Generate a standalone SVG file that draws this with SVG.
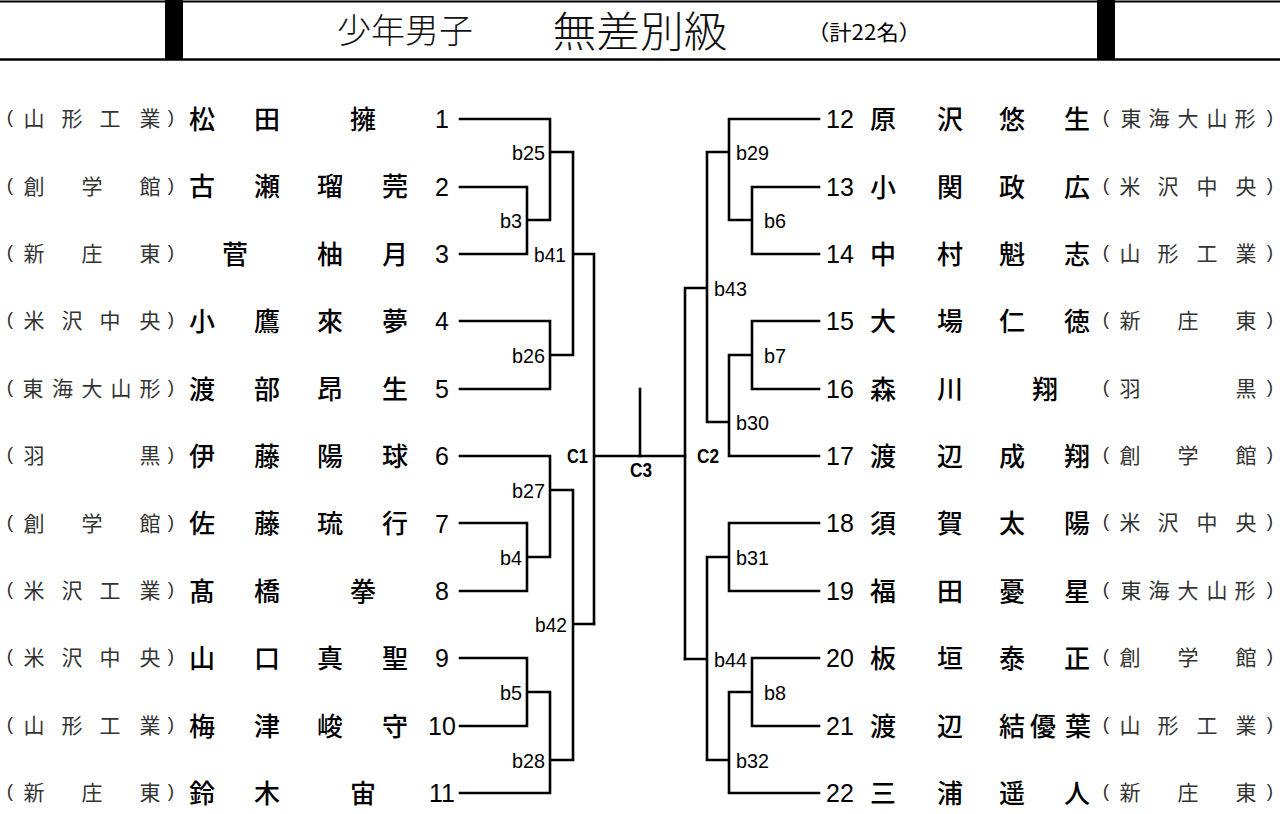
<svg xmlns="http://www.w3.org/2000/svg" width="1280" height="814" viewBox="0 0 1280 814">
<style>
.bg{fill:#fff}
.hl{stroke:#000;fill:none}
.bar{fill:#000}
.ttl{font-family:"Noto Sans CJK JP","Noto Sans CJK SC",sans-serif;fill:#111;font-weight:300;text-anchor:middle}
.cnt{font-family:"Noto Sans CJK JP","Noto Sans CJK SC",sans-serif;fill:#000;font-weight:400;font-size:21px;text-anchor:middle}
.con{fill:none;stroke:#000;stroke-width:2.6;stroke-linecap:square}
.lb{font-family:"Liberation Sans",Arial,sans-serif;font-size:21px;fill:#000}
.lbl{text-anchor:end}
.lbr{text-anchor:start}
.cl{font-family:"Liberation Sans",Arial,sans-serif;font-size:21px;font-weight:bold;fill:#000}
.num{font-family:"Liberation Sans",Arial,sans-serif;font-size:25px;fill:#000;text-anchor:middle}
.nm{font-family:"Noto Sans CJK JP","Noto Sans CJK SC",sans-serif;font-size:26px;font-weight:500;fill:#000;text-anchor:middle}
.sc{font-family:"Noto Sans CJK JP","Noto Sans CJK SC",sans-serif;font-size:21px;fill:#333;text-anchor:middle}
.pa{font-family:"Liberation Sans",Arial,sans-serif;font-size:19px;fill:#333;text-anchor:middle}
</style>
<rect class="bg" x="0" y="0" width="1280" height="814"/>
<g id="header">
<line class="hl" x1="0" y1="1.5" x2="1280" y2="1.5" stroke-width="2"/>
<line class="hl" x1="0" y1="59.5" x2="1280" y2="59.5" stroke-width="2.6"/>
<rect class="bar" x="165" y="0" width="18" height="60"/>
<rect class="bar" x="1097" y="0" width="18" height="60"/>
<text class="ttl" x="405" y="43" font-size="34">少年男子</text>
<text class="ttl" x="640" y="47" font-size="42" textLength="175" lengthAdjust="spacingAndGlyphs">無差別級</text>
<text class="cnt" x="864" y="40" textLength="114" lengthAdjust="spacingAndGlyphs">（計22名）</text>
</g>
<g id="connectors">
<path class="con" d="M460,119H550V220M460,187H527V254H460M527,220H550M550,152H573V355M460,321H550V389H460M550,355H573M573,254H594V624M594,456H685"/>
<path class="con" d="M460,456H550V557M460,523H527V591H460M527,557H550M550,490H573V760M460,658H527V726H460M527,692H550M460,793H550V692M550,760H573M573,624H594"/>
<path class="con" d="M819,119H729V220M819,187H752V254H819M752,220H729M729,152H707V422M707,288H685V659M819,321H752V389H819M752,355H729V456H819M729,422H707"/>
<path class="con" d="M819,523H729V591H819M729,557H707V760M707,659H685M819,658H752V726H819M752,692H729V793H819M729,760H707"/>
<path class="con" d="M640,389V456"/>
</g>
<g id="match-labels">
<text class="lb lbl" x="545" y="159.5" textLength="33" lengthAdjust="spacingAndGlyphs">b25</text>
<text class="lb lbl" x="522" y="227.5" textLength="22" lengthAdjust="spacingAndGlyphs">b3</text>
<text class="lb lbl" x="566" y="261.5" textLength="32" lengthAdjust="spacingAndGlyphs">b41</text>
<text class="lb lbl" x="545" y="362.5" textLength="33" lengthAdjust="spacingAndGlyphs">b26</text>
<text class="lb lbl" x="545" y="497.5" textLength="33" lengthAdjust="spacingAndGlyphs">b27</text>
<text class="lb lbl" x="522" y="564.5" textLength="22" lengthAdjust="spacingAndGlyphs">b4</text>
<text class="lb lbl" x="567" y="631.5" textLength="32" lengthAdjust="spacingAndGlyphs">b42</text>
<text class="lb lbl" x="522" y="699.5" textLength="22" lengthAdjust="spacingAndGlyphs">b5</text>
<text class="lb lbl" x="545" y="767.5" textLength="33" lengthAdjust="spacingAndGlyphs">b28</text>
<text class="lb lbr" x="736" y="159.5" textLength="33" lengthAdjust="spacingAndGlyphs">b29</text>
<text class="lb lbr" x="764" y="227.5" textLength="22" lengthAdjust="spacingAndGlyphs">b6</text>
<text class="lb lbr" x="714" y="295.5" textLength="33" lengthAdjust="spacingAndGlyphs">b43</text>
<text class="lb lbr" x="764" y="362.5" textLength="22" lengthAdjust="spacingAndGlyphs">b7</text>
<text class="lb lbr" x="736" y="429.5" textLength="33" lengthAdjust="spacingAndGlyphs">b30</text>
<text class="lb lbr" x="736" y="564.5" textLength="33" lengthAdjust="spacingAndGlyphs">b31</text>
<text class="lb lbr" x="714" y="666.5" textLength="33" lengthAdjust="spacingAndGlyphs">b44</text>
<text class="lb lbr" x="764" y="699.5" textLength="22" lengthAdjust="spacingAndGlyphs">b8</text>
<text class="lb lbr" x="736" y="767.5" textLength="33" lengthAdjust="spacingAndGlyphs">b32</text>
<text class="cl" x="567" y="463" textLength="21" lengthAdjust="spacingAndGlyphs">C1</text>
<text class="cl" x="630" y="477" textLength="22" lengthAdjust="spacingAndGlyphs">C3</text>
<text class="cl" x="697" y="463" textLength="22" lengthAdjust="spacingAndGlyphs">C2</text>
</g>
<g id="p1"><text class="pa" x="10" y="123">(</text><text class="sc" x="34 72 110 150" y="126">山形工業</text><text class="pa" x="171" y="123">)</text><text class="nm" x="202 267 363" y="128.5">松田擁</text><text class="num" x="442" y="128">1</text></g>
<g id="p2"><text class="pa" x="10" y="190.5">(</text><text class="sc" x="34 92 150" y="193.5">創学館</text><text class="pa" x="171" y="190.5">)</text><text class="nm" x="202 267 330 395" y="196">古瀬瑠莞</text><text class="num" x="442" y="195.5">2</text></g>
<g id="p3"><text class="pa" x="10" y="258">(</text><text class="sc" x="34 92 150" y="261">新庄東</text><text class="pa" x="171" y="258">)</text><text class="nm" x="235 330 395" y="263.5">菅柚月</text><text class="num" x="442" y="263">3</text></g>
<g id="p4"><text class="pa" x="10" y="325">(</text><text class="sc" x="34 72 110 150" y="328">米沢中央</text><text class="pa" x="171" y="325">)</text><text class="nm" x="202 267 330 395" y="330.5">小鷹來夢</text><text class="num" x="442" y="330">4</text></g>
<g id="p5"><text class="pa" x="10" y="393">(</text><text class="sc" x="33 62.5 92 121 150" y="396">東海大山形</text><text class="pa" x="171" y="393">)</text><text class="nm" x="202 267 330 395" y="398.5">渡部昂生</text><text class="num" x="442" y="398">5</text></g>
<g id="p6"><text class="pa" x="10" y="460">(</text><text class="sc" x="34 150" y="463">羽黒</text><text class="pa" x="171" y="460">)</text><text class="nm" x="202 267 330 395" y="465.5">伊藤陽球</text><text class="num" x="442" y="465">6</text></g>
<g id="p7"><text class="pa" x="10" y="527.5">(</text><text class="sc" x="34 92 150" y="530.5">創学館</text><text class="pa" x="171" y="527.5">)</text><text class="nm" x="202 267 330 395" y="533">佐藤琉行</text><text class="num" x="442" y="532.5">7</text></g>
<g id="p8"><text class="pa" x="10" y="595">(</text><text class="sc" x="34 72 110 150" y="598">米沢工業</text><text class="pa" x="171" y="595">)</text><text class="nm" x="202 267 363" y="600.5">髙橋拳</text><text class="num" x="442" y="600">8</text></g>
<g id="p9"><text class="pa" x="10" y="662">(</text><text class="sc" x="34 72 110 150" y="665">米沢中央</text><text class="pa" x="171" y="662">)</text><text class="nm" x="202 267 330 395" y="667.5">山口真聖</text><text class="num" x="442" y="667">9</text></g>
<g id="p10"><text class="pa" x="10" y="730">(</text><text class="sc" x="34 72 110 150" y="733">山形工業</text><text class="pa" x="171" y="730">)</text><text class="nm" x="202 267 330 395" y="735.5">梅津峻守</text><text class="num" x="442" y="735">10</text></g>
<g id="p11"><text class="pa" x="10" y="797">(</text><text class="sc" x="34 92 150" y="800">新庄東</text><text class="pa" x="171" y="797">)</text><text class="nm" x="202 267 363" y="802.5">鈴木宙</text><text class="num" x="442" y="802">11</text></g>
<g id="p12"><text class="num" x="840" y="128">12</text><text class="nm" x="883 950 1012 1077" y="128.5">原沢悠生</text><text class="pa" x="1106" y="123">(</text><text class="sc" x="1131 1159 1188 1217 1245" y="126">東海大山形</text><text class="pa" x="1270" y="123">)</text></g>
<g id="p13"><text class="num" x="840" y="196">13</text><text class="nm" x="883 950 1012 1077" y="196.5">小関政広</text><text class="pa" x="1106" y="191">(</text><text class="sc" x="1130 1168 1207 1246" y="194">米沢中央</text><text class="pa" x="1270" y="191">)</text></g>
<g id="p14"><text class="num" x="840" y="263">14</text><text class="nm" x="883 950 1012 1077" y="263.5">中村魁志</text><text class="pa" x="1106" y="258">(</text><text class="sc" x="1130 1168 1207 1246" y="261">山形工業</text><text class="pa" x="1270" y="258">)</text></g>
<g id="p15"><text class="num" x="840" y="330">15</text><text class="nm" x="883 950 1012 1077" y="330.5">大場仁徳</text><text class="pa" x="1106" y="325">(</text><text class="sc" x="1130 1188 1246" y="328">新庄東</text><text class="pa" x="1270" y="325">)</text></g>
<g id="p16"><text class="num" x="840" y="398">16</text><text class="nm" x="883 950 1045" y="398.5">森川翔</text><text class="pa" x="1106" y="393">(</text><text class="sc" x="1130 1246" y="396">羽黒</text><text class="pa" x="1270" y="393">)</text></g>
<g id="p17"><text class="num" x="840" y="465">17</text><text class="nm" x="883 950 1012 1077" y="465.5">渡辺成翔</text><text class="pa" x="1106" y="460">(</text><text class="sc" x="1130 1188 1246" y="463">創学館</text><text class="pa" x="1270" y="460">)</text></g>
<g id="p18"><text class="num" x="840" y="532">18</text><text class="nm" x="883 950 1012 1077" y="532.5">須賀太陽</text><text class="pa" x="1106" y="527">(</text><text class="sc" x="1130 1168 1207 1246" y="530">米沢中央</text><text class="pa" x="1270" y="527">)</text></g>
<g id="p19"><text class="num" x="840" y="600">19</text><text class="nm" x="883 950 1012 1077" y="600.5">福田憂星</text><text class="pa" x="1106" y="595">(</text><text class="sc" x="1131 1159 1188 1217 1245" y="598">東海大山形</text><text class="pa" x="1270" y="595">)</text></g>
<g id="p20"><text class="num" x="840" y="667">20</text><text class="nm" x="883 950 1012 1077" y="667.5">板垣泰正</text><text class="pa" x="1106" y="662">(</text><text class="sc" x="1130 1188 1246" y="665">創学館</text><text class="pa" x="1270" y="662">)</text></g>
<g id="p21"><text class="num" x="840" y="735">21</text><text class="nm" x="883 950 1012 1043 1078" y="735.5">渡辺結優葉</text><text class="pa" x="1106" y="730">(</text><text class="sc" x="1130 1168 1207 1246" y="733">山形工業</text><text class="pa" x="1270" y="730">)</text></g>
<g id="p22"><text class="num" x="840" y="802">22</text><text class="nm" x="883 950 1012 1077" y="802.5">三浦遥人</text><text class="pa" x="1106" y="797">(</text><text class="sc" x="1130 1188 1246" y="800">新庄東</text><text class="pa" x="1270" y="797">)</text></g>
</svg>
